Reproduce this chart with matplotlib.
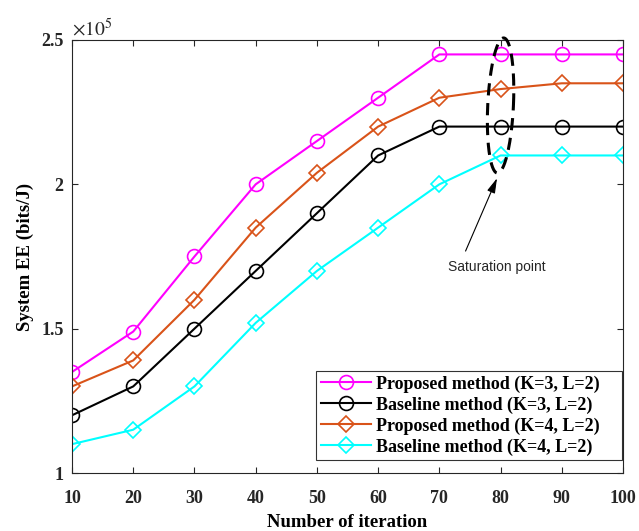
import matplotlib
matplotlib.use("Agg")
import matplotlib.pyplot as plt
import numpy as np
from matplotlib.ticker import FuncFormatter

plt.rcParams["font.family"] = "Liberation Serif"
plt.rcParams["mathtext.fontset"] = "stix"

# Data
iterations = [10, 20, 30, 40, 50, 60, 70, 80, 90, 100]
proposed_k3 = [1.35e5, 1.49e5, 1.75e5, 2.00e5, 2.15e5, 2.30e5, 2.45e5, 2.45e5, 2.45e5, 2.45e5]
baseline_k3 = [1.20e5, 1.30e5, 1.50e5, 1.70e5, 1.90e5, 2.10e5, 2.20e5, 2.20e5, 2.20e5, 2.20e5]
proposed_k4 = [1.30e5, 1.39e5, 1.60e5, 1.85e5, 2.04e5, 2.20e5, 2.30e5, 2.33e5, 2.35e5, 2.35e5]
baseline_k4 = [1.10e5, 1.15e5, 1.30e5, 1.52e5, 1.70e5, 1.85e5, 2.00e5, 2.10e5, 2.10e5, 2.10e5]

labels = [
    "Proposed method (K=3, L=2)",
    "Baseline method (K=3, L=2)",
    "Proposed method (K=4, L=2)",
    "Baseline method (K=4, L=2)",
]
colors = ["#FF00FF", "#000000", "#D95319", "#00FFFF"]
markers = ["o", "o", "D", "D"]
sizes = [10, 10, 8, 8]

fig = plt.figure(figsize=(6.39, 5.31), dpi=100)
ax = fig.add_axes([0.1127, 0.1092, 0.8623, 0.8155])

series = [proposed_k3, baseline_k3, proposed_k4, baseline_k4]
for vals, lab, c, m, ms in zip(series, labels, colors, markers, sizes):
    ax.plot(iterations, vals, color=c, marker=m, markersize=ms,
            markerfacecolor="none", markeredgewidth=1.2, linewidth=1.5,
            label=lab)

# Saturation ellipse (dashed)
t = np.linspace(0, 2 * np.pi, 200)
cx, cy = 80.0, 2.273e5
a, b = 2.1, 0.234e5
ex = cx + a * np.cos(t) + 0.5 * np.sin(t)
ey = cy + b * np.sin(t)
ax.plot(ex, ey, color="black", linestyle=(0, (4, 2.5)), linewidth=2.2,
        clip_on=False, zorder=5)

ax.annotate("", xy=(79.6, 2.03e5), xytext=(74.1, 1.76e5),
            arrowprops=dict(arrowstyle="-|>,head_length=0.9,head_width=0.25",
                            color="black", lw=0.8))
ax.text(79.4, 1.713e5, "Saturation point", family="Liberation Sans",
        fontsize=10, color="#262626", ha="center", va="center")

ax.set_xlim(10, 100)
ax.set_ylim(1e5, 2.5e5)
ax.set_xticks(iterations)
ax.set_yticks([1e5, 1.5e5, 2e5, 2.5e5])
ax.yaxis.set_major_formatter(FuncFormatter(lambda v, p: "%g" % (v / 1e5)))
ax.tick_params(direction="in", top=True, right=True, length=4, width=0.8,
               colors="#262626", labelsize=13)
ax.tick_params(axis="x", pad=12)
ax.tick_params(axis="y", pad=6)
for lab in ax.get_xticklabels() + ax.get_yticklabels():
    lab.set_fontweight("bold")
for s in ax.spines.values():
    s.set_color("#262626")
    s.set_linewidth(0.8)

ax.text(0.0, 1.0, r"$\times10^{5}$", transform=ax.transAxes,
        fontsize=14, ha="left", va="bottom", color="#262626")

ax.set_xlabel("Number of iteration", fontsize=13.5, fontweight="bold", labelpad=5)
ax.set_ylabel("System EE (bits/J)", fontsize=13.5, fontweight="bold", labelpad=5)

leg = ax.legend(loc="lower left", bbox_to_anchor=(0.443, 0.03, 0.555, 0.2),
                mode="expand", prop={"weight": "bold", "size": 13},
                frameon=True, fancybox=False, edgecolor="black",
                handlelength=2.8, handletextpad=0.25, labelspacing=0.2,
                borderpad=0.25, borderaxespad=0.0)
leg.get_frame().set_linewidth(0.8)

fig.savefig("out.png", dpi=100)
